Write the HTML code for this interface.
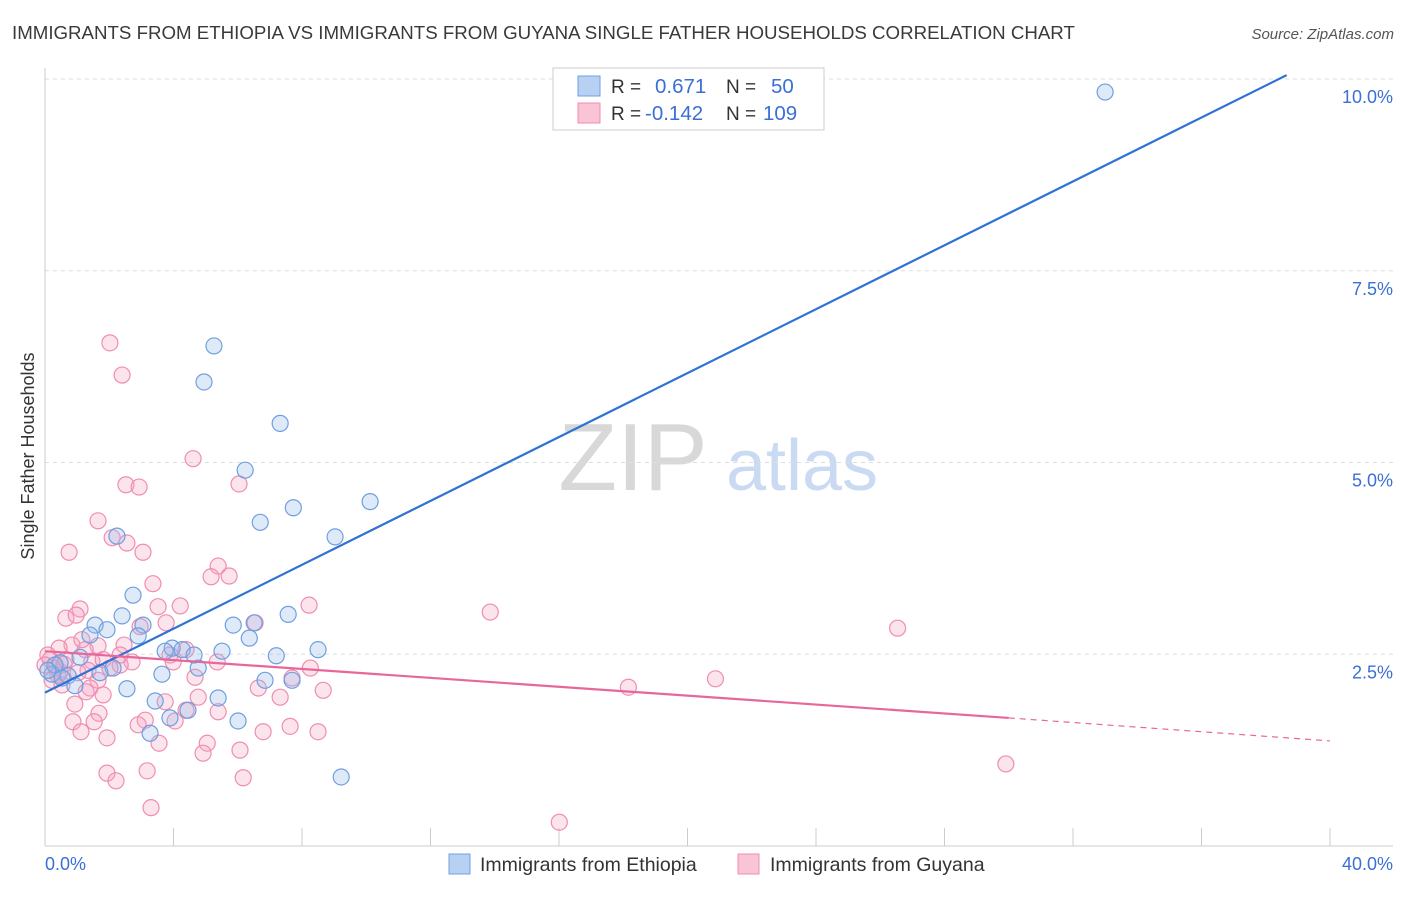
<!DOCTYPE html>
<html><head><meta charset="utf-8"><style>
body{margin:0;background:#fff;font-family:"Liberation Sans",sans-serif;}
svg text{font-family:"Liberation Sans",sans-serif;}
</style></head><body>
<svg id="chart" width="1406" height="892" viewBox="0 0 1406 892">
<text x="12" y="39" font-size="18.7" fill="#3a3a3a">IMMIGRANTS FROM ETHIOPIA VS IMMIGRANTS FROM GUYANA SINGLE FATHER HOUSEHOLDS CORRELATION CHART</text>
<text x="1394" y="39" font-size="15" fill="#555" text-anchor="end" font-style="italic">Source: ZipAtlas.com</text>
<g>
<text x="633" y="490" font-size="96" fill="#d8d8d8" text-anchor="middle" font-family="Liberation Serif">ZIP</text>
<text x="802" y="490" font-size="72" fill="#c9daf2" text-anchor="middle">atlas</text>
</g>
<g id="grid"></g>
<g id="axes"></g>
<g id="points"></g>
<g id="lines"></g>
<text transform="translate(34,456) rotate(-90)" font-size="18" fill="#333" text-anchor="middle">Single Father Households</text>
<g>
<rect x="553" y="68" width="271" height="62" fill="#fff" stroke="#ccc"/>
<rect x="578" y="76" width="22" height="20" fill="#b8d0f2" stroke="#6f9fe0"/>
<rect x="578" y="103" width="22" height="20" fill="#f9c4d5" stroke="#f08db0"/>
<text x="611" y="93" font-size="19" fill="#333">R =</text>
<text x="655" y="93" font-size="20.5" fill="#3b6fd6">0.671</text>
<text x="726" y="93" font-size="19" fill="#333">N =</text>
<text x="771" y="93" font-size="20.5" fill="#3b6fd6">50</text>
<text x="611" y="120" font-size="19" fill="#333">R =</text>
<text x="645" y="120" font-size="20.5" fill="#3b6fd6">-0.142</text>
<text x="726" y="120" font-size="19" fill="#333">N =</text>
<text x="763" y="120" font-size="20.5" fill="#3b6fd6">109</text>
</g>
<g>
<rect x="449" y="854" width="21" height="20" fill="#b8d0f2" stroke="#6f9fe0"/>
<text x="480" y="871" font-size="19.5" fill="#333">Immigrants from Ethiopia</text>
</g>
<g>
<rect x="738" y="854" width="21" height="20" fill="#f9c4d5" stroke="#f08db0"/>
<text x="770" y="871" font-size="19.5" fill="#333">Immigrants from Guyana</text>
</g>
</svg>
<script>
const yTicks=[2.5,5.0,7.5,10.0];
const xTickLabels=["0.0%","40.0%"];
const ethX=[33.0,5.26,4.95,7.32,6.23,10.12,7.73,6.70,9.03,2.24,2.74,2.40,7.57,6.51,5.86,3.05,1.56,1.93,1.40,2.90,6.36,3.96,4.27,3.74,5.51,8.50,4.64,7.20,1.09,0.47,4.77,2.12,3.64,6.85,7.69,0.22,0.72,0.93,2.55,3.43,5.39,4.45,3.89,6.01,3.27,9.22,0.31,0.09,0.53,1.71];
const ethY=[9.83,6.52,6.05,5.51,4.90,4.49,4.41,4.22,4.03,4.04,3.27,3.00,3.02,2.91,2.88,2.88,2.88,2.82,2.75,2.74,2.71,2.58,2.56,2.54,2.54,2.56,2.49,2.48,2.46,2.39,2.32,2.32,2.24,2.16,2.16,2.24,2.22,2.09,2.05,1.89,1.93,1.77,1.67,1.63,1.47,0.90,2.36,2.29,2.19,2.26];
const guyX=[2.02,2.40,4.61,6.04,2.52,2.93,1.65,0.75,2.09,2.55,3.05,5.39,5.73,5.17,3.36,8.22,4.21,3.52,1.09,0.65,0.97,13.86,26.54,3.77,2.96,6.54,2.46,1.65,0.84,0.44,4.39,3.89,3.99,5.36,1.46,1.81,2.71,2.34,2.02,1.34,0.47,0.16,0.34,0.59,1.03,8.26,4.67,7.69,1.65,1.40,1.28,6.64,8.66,18.16,20.87,4.77,7.32,1.81,3.74,4.39,0.93,1.68,5.39,3.12,0.87,1.53,2.90,4.05,7.63,8.50,6.79,1.12,1.93,3.55,5.05,6.07,4.92,1.93,3.18,2.21,6.17,29.91,3.30,16.01,0.09,0.22,0.53,2.34,1.25,0.0,0.40,0.65,1.15];
const guyY=[6.56,6.14,5.05,4.72,4.71,4.68,4.24,3.83,4.02,3.95,3.83,3.65,3.52,3.51,3.42,3.14,3.13,3.12,3.09,2.97,3.01,3.05,2.84,2.91,2.86,2.91,2.62,2.61,2.62,2.58,2.56,2.49,2.40,2.40,2.41,2.43,2.40,2.36,2.32,2.29,2.27,2.43,2.32,2.37,2.26,2.32,2.20,2.19,2.16,2.06,2.01,2.06,2.03,2.07,2.18,1.94,1.94,1.97,1.88,1.77,1.85,1.73,1.75,1.64,1.62,1.62,1.58,1.63,1.56,1.49,1.49,1.49,1.41,1.34,1.34,1.25,1.21,0.95,0.98,0.85,0.89,1.07,0.50,0.31,2.49,2.16,2.10,2.49,2.56,2.36,2.23,2.43,2.69];
const ethLine=[[0,2.0],[38.65,10.05]];
const guyLine=[[0,2.54],[30.0,1.67],[40,1.37]];
const NS="http://www.w3.org/2000/svg";
const X0=45,X1=1330,Y0=846,PY=76.7;
function sx(v){return X0+v*(X1-X0)/40;}
function sy(v){return Y0-v*PY;}
function mk(tag,attrs,parent){const e=document.createElementNS(NS,tag);for(const k in attrs)e.setAttribute(k,attrs[k]);parent.appendChild(e);return e;}
const grid=document.getElementById('grid'),axes=document.getElementById('axes'),pts=document.getElementById('points'),lines=document.getElementById('lines');
yTicks.forEach(t=>{
 const l=mk('line',{x1:45,x2:1393,y1:sy(t),y2:sy(t),stroke:'#ddd','stroke-dasharray':'4,4'},grid);
 
 
 const tx=mk('text',{x:1393,y:sy(t)+24,'font-size':18,fill:'#3b6fd6','text-anchor':'end'},grid);
 tx.textContent=t.toFixed(1)+'%';
 
 
});
const topLine=mk('line',{x1:45,x2:1393,y1:79,y2:79,stroke:'#ddd','stroke-dasharray':'4,4'},grid);


const ya=mk('line',{x1:45,x2:45,y1:68,y2:846,stroke:'#ccc'},axes);


const xa=mk('line',{x1:45,x2:1393,y1:846,y2:846,stroke:'#ccc'},axes);


for(let i=0;i<=10;i++){const t=mk('line',{x1:sx(i*4),x2:sx(i*4),y1:828,y2:846,stroke:'#ccc'},axes);
 
 }
const xl0=mk('text',{x:45,y:870,'font-size':18,fill:'#3b6fd6'},axes);xl0.textContent=xTickLabels[0];


const xl1=mk('text',{x:1393,y:870,'font-size':18,fill:'#3b6fd6','text-anchor':'end'},axes);xl1.textContent=xTickLabels[1];


guyX.forEach((v,i)=>{const c=mk('circle',{cx:sx(v),cy:sy(guyY[i]),r:8,fill:'rgba(246,165,195,0.3)',stroke:'#f08db0','stroke-width':1.2},pts);
 
 });
ethX.forEach((v,i)=>{const c=mk('circle',{cx:sx(v),cy:sy(ethY[i]),r:8,fill:'rgba(150,185,235,0.3)',stroke:'#6f9fe0','stroke-width':1.2},pts);
 
 });
const bl=mk('line',{x1:sx(ethLine[0][0]),y1:sy(ethLine[0][1]),x2:sx(ethLine[1][0]),y2:sy(ethLine[1][1]),stroke:'#2f72d6','stroke-width':2.2},lines);


const pl=mk('line',{x1:sx(guyLine[0][0]),y1:sy(guyLine[0][1]),x2:sx(guyLine[1][0]),y2:sy(guyLine[1][1]),stroke:'#e8679a','stroke-width':2.2},lines);


const pd=mk('line',{x1:sx(guyLine[1][0]),y1:sy(guyLine[1][1]),x2:sx(guyLine[2][0]),y2:sy(guyLine[2][1]),stroke:'#e8679a','stroke-width':1.2,'stroke-dasharray':'6,5'},lines);


</script>
</body></html>
